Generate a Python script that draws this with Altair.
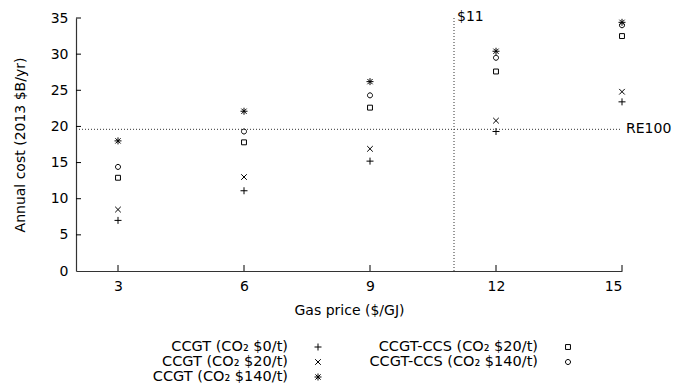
import altair as alt
import pandas as pd

gas_price = [3, 6, 9, 12, 15]
series = [
    "CCGT (CO₂ $0/t)",
    "CCGT (CO₂ $20/t)",
    "CCGT (CO₂ $140/t)",
    "CCGT-CCS (CO₂ $20/t)",
    "CCGT-CCS (CO₂ $140/t)",
]
ccgt_0 = [7.0, 11.1, 15.2, 19.3, 23.4]
ccgt_20 = [8.5, 13.0, 16.9, 20.8, 24.8]
ccgt_140 = [18.0, 22.1, 26.2, 30.4, 34.4]
ccs_20 = [12.9, 17.8, 22.6, 27.6, 32.5]
ccs_140 = [14.4, 19.3, 24.3, 29.5, 34.0]
re100 = 19.6
gas_threshold = 11
x_ticks = [3, 6, 9, 12, 15]
y_ticks = [0, 5, 10, 15, 20, 25, 30, 35]

values = [ccgt_0, ccgt_20, ccgt_140, ccs_20, ccs_140]
rows = []
for s, v in zip(series, values):
    for g, c in zip(gas_price, v):
        rows.append({"gas": g, "cost": c, "series": s})
df = pd.DataFrame(rows)

shapes = [
    "M-1,0L1,0M0,-1L0,1",
    "M-0.8,-0.8L0.8,0.8M-0.8,0.8L0.8,-0.8",
    "M-1,0L1,0M0,-1L0,1M-0.75,-0.75L0.75,0.75M-0.75,0.75L0.75,-0.75",
    "M-0.7,-0.7L0.7,-0.7L0.7,0.7L-0.7,0.7Z",
    "M0.72,0A0.72,0.72,0,1,1,-0.72,0A0.72,0.72,0,1,1,0.72,0Z",
]
shape_scale = alt.Scale(domain=series, range=shapes)

W, H = 546, 253
FONT = "DejaVu Sans"
FS = 14
LFS = 14.5

xs = alt.Scale(domain=[2, 15], nice=False)
ys = alt.Scale(domain=[0, 35], nice=False)
ax_x = alt.Axis(title="Gas price ($/GJ)", values=x_ticks, ticks=False, grid=False,
                labelPadding=8, titlePadding=10, labelOverlap=False)
ax_y = alt.Axis(title="Annual cost (2013 $B/yr)", values=y_ticks, ticks=False, grid=False,
                labelPadding=8, titlePadding=23, labelOverlap=False)

points = alt.Chart(df).mark_point(filled=False, color="black", strokeWidth=1, size=49, opacity=1).encode(
    x=alt.X("gas:Q", scale=xs, axis=ax_x),
    y=alt.Y("cost:Q", scale=ys, axis=ax_y),
    shape=alt.Shape("series:N", scale=shape_scale, legend=None),
)

vline = alt.Chart(pd.DataFrame({"gas": [gas_threshold]})).mark_rule(
    color="#333", strokeDash=[1, 2], strokeWidth=1).encode(x=alt.X("gas:Q", scale=xs, axis=ax_x))
hline = alt.Chart(pd.DataFrame({"cost": [re100], "gas": [2], "gas2": [15]})).mark_rule(
    color="#333", strokeDash=[1, 2], strokeWidth=1).encode(
    y=alt.Y("cost:Q", scale=ys, axis=ax_y), x=alt.X("gas:Q", scale=xs, axis=ax_x), x2="gas2:Q")

vtext = alt.Chart(pd.DataFrame({"gas": [gas_threshold], "cost": [35], "t": ["$11"]})).mark_text(
    align="left", baseline="middle", dx=3, dy=-1, font=FONT, fontSize=FS, color="black").encode(
    x=alt.X("gas:Q", scale=xs, axis=ax_x), y=alt.Y("cost:Q", scale=ys, axis=ax_y), text="t:N")
htext = alt.Chart(pd.DataFrame({"gas": [15], "cost": [re100], "t": ["RE100"]})).mark_text(
    align="left", baseline="middle", dx=4, font=FONT, fontSize=FS, color="black").encode(
    x=alt.X("gas:Q", scale=xs, axis=ax_x), y=alt.Y("cost:Q", scale=ys, axis=ax_y), text="t:N")

yt = alt.Chart(pd.DataFrame({"cost": y_ticks[1:]})).mark_rule(color="black", strokeWidth=1).encode(
    y=alt.Y("cost:Q", scale=ys, axis=ax_y), x=alt.value(0), x2=alt.value(5))
xt = alt.Chart(pd.DataFrame({"gas": x_ticks})).mark_rule(color="black", strokeWidth=1).encode(
    x=alt.X("gas:Q", scale=xs, axis=ax_x), y=alt.value(H), y2=alt.value(H - 6))

main = alt.layer(points, vline, hline, yt, xt, vtext, htext).properties(width=W, height=H)

# legend
leg_col = [0, 0, 0, 1, 1]
leg_row = [0, 1, 2, 0, 1]
leg = pd.DataFrame({"series": series, "col": leg_col, "row": leg_row})
lx = alt.Scale(domain=[0, 1], range=[212, 462])
ly = alt.Scale(domain=[0, 2], range=[22, 52])
leg_text = alt.Chart(leg).mark_text(align="right", baseline="middle", font=FONT, fontSize=LFS, color="black").encode(
    x=alt.X("col:Q", scale=lx, axis=None), y=alt.Y("row:Q", scale=ly, axis=None), text="series:N")
leg_pts = alt.Chart(leg).mark_point(filled=False, color="black", strokeWidth=1, size=49, opacity=1, xOffset=30).encode(
    x=alt.X("col:Q", scale=lx, axis=None), y=alt.Y("row:Q", scale=ly, axis=None),
    shape=alt.Shape("series:N", scale=shape_scale, legend=None))
legend = alt.layer(leg_text, leg_pts).properties(width=W, height=58)

chart = alt.vconcat(main, legend, spacing=8).properties(
    padding={"left": 5, "top": 2, "right": 5, "bottom": 0}
).configure_view(stroke=None).configure_axis(
    labelFont=FONT, titleFont=FONT, labelFontSize=FS, titleFontSize=FS, titleFontWeight="normal",
    labelColor="black", titleColor="black", domainColor="#333", domainWidth=1.2,
)

chart.save("out.html", embed_options={"renderer": "svg", "actions": False})
